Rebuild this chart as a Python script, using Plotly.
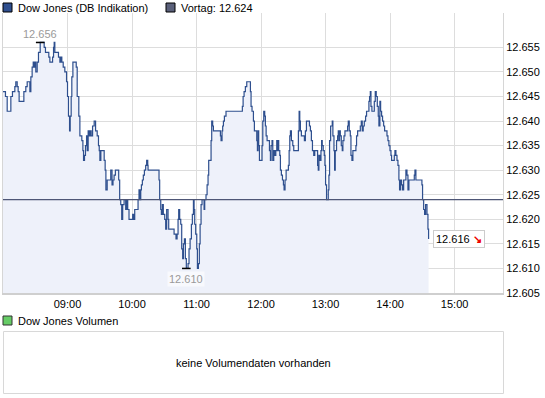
import pandas as pd
import plotly.graph_objects as go

# ---------------- data ----------------
session_day = "2012-02-01"
session_open = pd.Timestamp(f"{session_day} 08:00")
session_close_axis = pd.Timestamp(f"{session_day} 15:45")

# minutes after 08:00 at which the quote changes
minutes = [
    0, 2.3, 3.9, 7.3, 8.8, 11.0, 11.9, 13.2, 14.1, 15.0,
    19.4, 21.2, 22.5, 25.0, 25.9, 27.1, 28.1, 29.0, 29.9, 30.5,
    31.8, 33.0, 34.6, 38.3, 39.5, 42.6, 43.6, 46.1, 47.0, 47.6,
    48.2, 51.6, 52.9, 53.8, 54.7, 56.0, 57.5, 59.1, 60.0, 60.9,
    61.9, 62.5, 63.4, 64.0, 65.0, 68.1, 69.0, 70.5, 71.5, 73.3,
    74.3, 74.9, 75.8, 76.7, 77.7, 78.3, 79.2, 80.2, 81.1, 82.0,
    83.3, 84.8, 86.1, 87.6, 88.8, 89.5, 90.1, 91.0, 94.1, 95.0,
    95.7, 96.9,
    100.2, 101.4, 102.3, 103.3, 104.5, 107.6, 108.5, 109.5, 110.4, 111.3,
    112.6, 114.1, 115.0, 116.0, 117.2, 120.6, 121.6, 122.5, 125.6, 126.5,
    127.4, 128.1, 128.7, 129.6, 130.5, 131.5, 132.7, 133.6, 134.6, 134.9,
    145.1, 145.7, 146.7, 147.3, 148.2, 149.1, 150.4, 151.3, 152.2, 153.5,
    154.1, 159.1, 160.9, 161.9, 162.8, 163.4, 164.3, 165.3, 166.2, 167.1,
    167.8, 168.7, 169.6, 170.5, 172.1, 173.0, 174.0, 175.2, 176.1, 177.1,
    177.7, 178.3, 179.2, 180.2, 180.8, 181.7, 182.6, 183.3, 184.2, 185.1,
    187.0, 187.6, 188.8, 189.8, 190.7, 191.3,
    193.5, 194.1, 195.0, 195.7, 202.2, 202.8, 203.7, 204.3, 205.0, 205.9,
    207.4, 222.6, 223.3, 224.2, 225.4, 226.7, 230.1, 230.7, 231.6, 232.9,
    233.8, 236.0, 236.6, 237.2, 237.8, 238.5, 240.9, 241.6, 242.5, 243.4,
    244.0, 244.7, 245.6, 247.8, 248.7, 249.3, 250.2, 250.9, 251.8, 252.7,
    253.7, 254.6, 255.2, 255.8, 256.4, 257.4, 258.0, 258.9, 259.9, 260.8,
    261.4, 262.3, 263.3, 265.4, 266.1, 266.7, 267.3, 268.2, 269.5, 270.4,
    274.7, 275.4, 276.0, 276.6, 277.5, 280.3, 281.2, 282.2, 285.0, 285.9,
    286.8, 287.8, 289.0, 289.9,
    292.6, 293.2, 293.8, 294.7, 295.7, 296.3, 296.9, 297.8, 298.8, 299.4,
    300.0, 300.9, 302.5, 303.1, 303.7, 304.7, 306.2, 306.8, 307.8, 308.4,
    309.0, 310.2, 311.2, 311.8, 312.4, 313.0, 313.7, 314.6, 315.5, 316.1,
    317.1, 318.0, 320.5, 321.1, 322.0, 323.0, 323.6, 324.5, 325.4, 328.2,
    328.8, 329.8, 332.3, 333.2, 334.1, 335.0, 336.0, 337.2, 338.1, 340.3,
    340.9, 341.6, 342.2, 343.1, 345.3, 346.2, 347.1, 348.1, 349.0, 349.6,
    350.5, 351.2, 352.1, 353.0, 354.0, 354.9, 357.1, 358.0, 358.9, 359.9,
    360.8, 361.4, 363.9, 364.5, 365.4, 366.4, 367.3, 368.2, 368.8, 369.8,
    370.7, 371.6, 372.6, 374.7, 375.7, 376.6, 377.5, 382.5, 383.1, 384.0,
    389.6, 390.2, 391.2, 392.1, 393.0, 394.3, 395.2, 395.8,
]

# index points (shown as 12.6xx in German notation)
prices = [
    12646, 12645, 12642, 12645, 12646, 12647, 12648, 12647, 12646, 12644,
    12646, 12647, 12648, 12646, 12649, 12651, 12652, 12651, 12652, 12650,
    12652, 12654, 12656, 12655, 12654, 12653, 12652, 12653, 12655, 12656,
    12654, 12653, 12652, 12653, 12652, 12651, 12650, 12648, 12645, 12641,
    12638, 12641, 12645, 12649, 12652, 12651, 12645, 12641, 12637, 12636,
    12634, 12632, 12633, 12635, 12637, 12634, 12638, 12637, 12638, 12637,
    12639, 12640, 12638, 12637, 12635, 12634, 12632, 12634, 12632, 12630,
    12626, 12628,
    12630, 12627, 12628, 12629, 12630, 12628, 12624, 12623, 12620, 12623,
    12624, 12622, 12624, 12622, 12620, 12621, 12620, 12622, 12624, 12626,
    12624, 12626, 12627, 12628, 12629, 12630, 12631, 12632, 12631, 12630,
    12628, 12624, 12622, 12621, 12623, 12621, 12620, 12618, 12622, 12620,
    12618, 12617, 12616, 12617, 12620, 12622, 12620, 12619, 12614, 12612,
    12615, 12616, 12612, 12610, 12611, 12614, 12616, 12619, 12621, 12624,
    12622, 12619, 12617, 12614, 12610, 12611, 12615, 12619, 12623, 12624,
    12622, 12624, 12625, 12627, 12629, 12632,
    12636, 12640, 12639, 12638, 12637, 12636, 12638, 12639, 12640, 12641,
    12642, 12643, 12645, 12646, 12647, 12648, 12646, 12643, 12642, 12640,
    12638, 12636, 12634, 12638, 12635, 12632, 12635, 12640, 12642, 12641,
    12639, 12637, 12636, 12634, 12632, 12635, 12636, 12632, 12634, 12633,
    12634, 12636, 12634, 12636, 12634, 12633, 12630, 12629, 12628, 12627,
    12626, 12628, 12630, 12631, 12634, 12637, 12638, 12636, 12635, 12634,
    12638, 12642, 12640, 12638, 12637, 12636, 12638, 12640, 12639, 12638,
    12636, 12634, 12633, 12634,
    12631, 12630, 12633, 12632, 12634, 12636, 12635, 12634, 12633, 12631,
    12627, 12624, 12626, 12629, 12636, 12639, 12640, 12637, 12634, 12630,
    12634, 12636, 12637, 12638, 12636, 12638, 12637, 12635, 12634, 12636,
    12637, 12638, 12639, 12640, 12638, 12637, 12633, 12632, 12634, 12635,
    12637, 12638, 12639, 12640, 12638, 12639, 12640, 12641, 12642, 12644,
    12645, 12646, 12643, 12642, 12644, 12646, 12645, 12643, 12641, 12639,
    12644, 12642, 12641, 12640, 12639, 12638, 12637, 12636, 12635, 12634,
    12633, 12632, 12633, 12634, 12633, 12632, 12631, 12628, 12626, 12628,
    12627, 12626, 12628, 12630, 12629, 12626, 12628, 12629, 12630, 12628,
    12627, 12624, 12622, 12621, 12623, 12621, 12618, 12616,
]
assert len(minutes) == len(prices)

prev_close = 12624          # "Vortag"
x_tick_labels = ["09:00", "10:00", "11:00", "12:00", "13:00", "14:00", "15:00"]
y_tick_values = [12605, 12610, 12615, 12620, 12625, 12630, 12635, 12640, 12645, 12650, 12655]
y_range = [12605, 12662]

series_name = "Dow Jones (DB Indikation)"
prev_name = "Vortag"
volume_name = "Dow Jones Volumen"
volume_message = "keine Volumendaten vorhanden"

# ---------------- helpers ----------------
def de(v):
    return f"{v:,}".replace(",", ".")

times = session_open + pd.to_timedelta(minutes, unit="min")
x_tick_vals = [pd.Timestamp(f"{session_day} {t}") for t in x_tick_labels]

W, H = 545, 398
PL, PT, PW, PH = 3, 13, 500, 280          # plot area in pixels


def pxx(x):
    return (x - PL) / PW


def pxy(y):
    return (PT + PH - y) / PH


FONT = "Arial, 'Liberation Sans', sans-serif"
LINE_COLOR = "#2e4f8e"
FILL_COLOR = "#eef1fa"
GRID = "#dddddd"

fig = go.Figure()
fig.add_trace(go.Scatter(
    x=times, y=prices, mode="lines",
    line=dict(shape="hv", color=LINE_COLOR, width=1.2),
    fill="tozeroy", fillcolor=FILL_COLOR,
    hoverinfo="skip", showlegend=False,
))

shapes = []
annotations = []

# previous close line
shapes.append(dict(type="line", xref="paper", yref="y", x0=0, x1=1,
                   y0=prev_close, y1=prev_close,
                   line=dict(color="#4e5676", width=1.3), layer="above"))

# max / min markers
i_max = max(range(len(prices)), key=lambda i: prices[i])
i_min = min(range(len(prices)), key=lambda i: prices[i])
for i, shift, bg in ((i_max, 8, "rgba(0,0,0,0)"), (i_min, -11, "rgba(255,255,255,0.6)")):
    t = times[i]
    shapes.append(dict(type="line", xref="x", yref="y",
                       x0=t - pd.Timedelta(minutes=4), x1=t + pd.Timedelta(minutes=4),
                       y0=prices[i], y1=prices[i],
                       line=dict(color="#000000", width=1.5), layer="above"))
    annotations.append(dict(x=t, y=prices[i], xref="x", yref="y", text=de(prices[i]),
                            showarrow=False, yshift=shift, bgcolor=bg, borderpad=1,
                            font=dict(family=FONT, size=11, color="#9a9a9a")))

# last value box
annotations.append(dict(
    x=times[-1], y=prices[-1], xref="x", yref="y", xanchor="left", yanchor="middle",
    xshift=4, showarrow=False,
    text=f"{de(prices[-1])} <span style='color:#ee0000'><b>\u2198</b></span>",
    bgcolor="#ffffff", bordercolor="#cccccc", borderwidth=1, borderpad=2,
    font=dict(family=FONT, size=11, color="#000000"),
))

# top legend
legend_items = [
    (3, series_name, "#2f4f8f"),
    (166, f"{prev_name}: {de(prev_close)}", "#5a607a"),
]
for x0, label, col in legend_items:
    shapes.append(dict(type="rect", xref="paper", yref="paper",
                       x0=pxx(x0), x1=pxx(x0 + 9), y0=pxy(12), y1=pxy(3),
                       fillcolor=col, line=dict(color="#000000", width=1)))
    annotations.append(dict(x=pxx(x0 + 13), y=pxy(7.5), xref="paper", yref="paper",
                            xanchor="left", yanchor="middle", showarrow=False, text=label,
                            font=dict(family=FONT, size=11, color="#000000")))

# volume panel
shapes.append(dict(type="rect", xref="paper", yref="paper",
                   x0=pxx(3), x1=pxx(12), y0=pxy(325), y1=pxy(316),
                   fillcolor="#66cc66", line=dict(color="#333333", width=1)))
annotations.append(dict(x=pxx(16), y=pxy(320.5), xref="paper", yref="paper",
                        xanchor="left", yanchor="middle", showarrow=False, text=volume_name,
                        font=dict(family=FONT, size=11, color="#000000")))
shapes.append(dict(type="rect", xref="paper", yref="paper",
                   x0=pxx(3.5), x1=pxx(503.5), y0=pxy(393.5), y1=pxy(331.5),
                   fillcolor="rgba(0,0,0,0)", line=dict(color="#d8d8d8", width=1)))
annotations.append(dict(x=pxx(253.5), y=pxy(363), xref="paper", yref="paper",
                        xanchor="center", yanchor="middle", showarrow=False,
                        text=volume_message,
                        font=dict(family=FONT, size=11, color="#000000")))

fig.update_layout(
    width=W, height=H,
    margin=dict(l=PL, r=W - PL - PW, t=PT, b=H - PT - PH, pad=0),
    paper_bgcolor="#ffffff", plot_bgcolor="#ffffff",
    separators=",.",
    showlegend=False,
    font=dict(family=FONT, size=11, color="#000000"),
    shapes=shapes, annotations=annotations,
    xaxis=dict(
        type="date", range=[session_open, session_close_axis],
        tickvals=x_tick_vals, ticktext=x_tick_labels,
        showgrid=True, gridcolor=GRID, gridwidth=1,
        showline=True, linecolor="#cfcfcf", linewidth=2,
        ticks="", zeroline=False, fixedrange=True,
        tickfont=dict(family=FONT, size=11, color="#000000"),
    ),
    yaxis=dict(
        side="right", range=y_range, tickvals=y_tick_values,
        tickformat=",d",
        showgrid=True, gridcolor=GRID, gridwidth=1,
        showline=True, mirror=True, linecolor="#d6d6d6", linewidth=1,
        ticks="", zeroline=False, fixedrange=True,
        tickfont=dict(family=FONT, size=11, color="#000000"),
    ),
)

fig.write_html(
    "out.html",
    config={"displayModeBar": False},
    post_script="document.body.style.margin='0px';document.body.style.padding='0px';",
)
